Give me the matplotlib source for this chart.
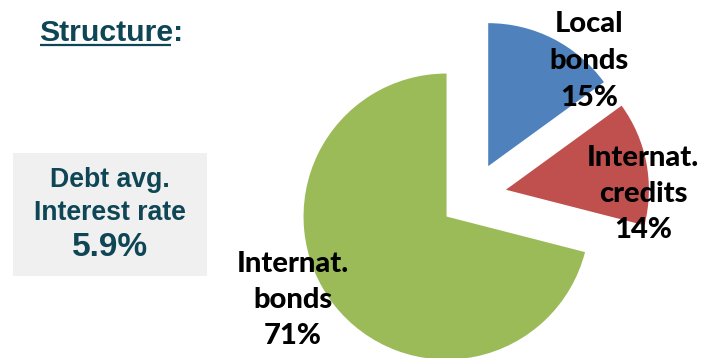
import matplotlib
matplotlib.use("Agg")
import matplotlib.pyplot as plt
from matplotlib.patches import Rectangle

# Debt structure shares (%)
categories = ["Local\nbonds", "Internat.\ncredits", "Internat.\nbonds"]
shares = [15, 14, 71]
colors = ["#4f81bd", "#c0504d", "#9bbb59"]
avg_rate = 5.9

W, H = 704, 358
fig = plt.figure(figsize=(W / 100, H / 100), dpi=100)
ax = fig.add_axes([0, 0, 1, 1])

teal = "#0f4656"
label_font = ["Lato", "DejaVu Sans"]

# explode is an absolute offset in data units (pixels here)
wedges, _ = ax.pie(
    shares,
    colors=colors,
    startangle=90,
    counterclock=False,
    radius=143,
    center=(473, H - 196),
    explode=[33.5] * len(shares),
    wedgeprops=dict(linewidth=0),
    frame=True,
)

ax.set_xlim(0, W)
ax.set_ylim(0, H)
ax.set_aspect("equal")
ax.axis("off")

# Slice labels
label_pos = [(589, H - 61), (643, H - 194), (293, H - 300)]
for name, share, (x, y) in zip(categories, shares, label_pos):
    ax.text(x, y, f"{name}\n{share}%", ha="center", va="center",
            fontsize=21, fontweight="black", family=label_font,
            linespacing=1.5, color="black")

# Title; only the word (not the colon) is underlined
title_kw = dict(ha="left", va="center", fontsize=21.8, fontweight="bold",
                family="Liberation Sans", color=teal)
probe = ax.text(39, H - 33, "Structure", **title_kw)
fig.canvas.draw()
bb = probe.get_window_extent().transformed(ax.transData.inverted())
probe.remove()
ax.text(39, H - 33, "Structure:", **title_kw)
ax.plot([bb.x0 + 1, bb.x1 - 2], [H - 45, H - 45], color=teal, lw=1.6,
        solid_capstyle="butt")

# Average interest rate box
ax.add_patch(Rectangle((13, H - 276), 194, 123, facecolor="#f0f0f0",
                       edgecolor="none"))
ax.text(110, H - 180, "Debt avg.", ha="center", va="center", fontsize=19.2,
        fontweight="bold", family="Liberation Sans", color=teal)
ax.text(110, H - 213, "Interest rate", ha="center", va="center", fontsize=19.2,
        fontweight="bold", family="Liberation Sans", color=teal)
ax.text(110, H - 247, f"{avg_rate}%", ha="center", va="center", fontsize=24,
        fontweight="bold", family="Liberation Sans", color=teal)

fig.savefig("out.png", dpi=100)
